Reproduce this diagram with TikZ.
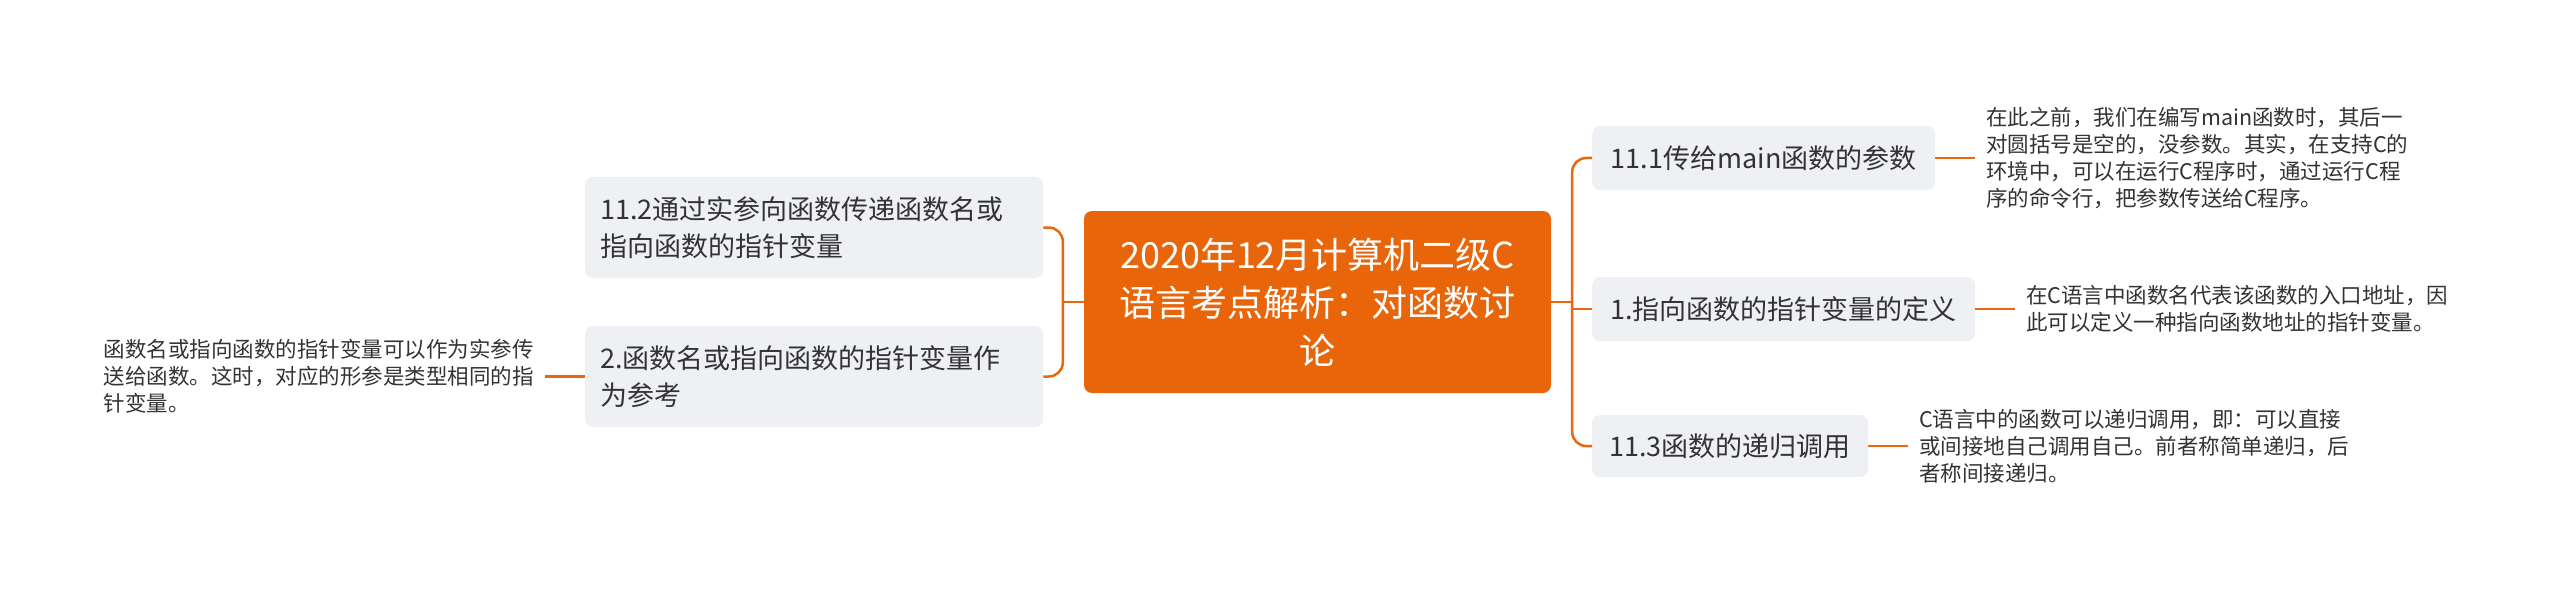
\documentclass[tikz,border=0pt]{standalone}
\usepackage{fontspec}
\setmainfont{Noto Sans CJK SC}
\usetikzlibrary{calc}
\definecolor{orng}{HTML}{E8650A}
\definecolor{conn}{HTML}{E8670F}
\definecolor{boxgray}{HTML}{EEF0F3}
\definecolor{txt}{HTML}{333333}
\begin{document}
\begin{tikzpicture}[x=1pt,y=-1pt,
  rootbox/.style={fill=orng, rounded corners=8pt, text=white, font=\fontsize{36}{48}\selectfont, align=center, minimum width=467pt, minimum height=182pt, inner sep=0pt},
  topicbox/.style={fill=boxgray, rounded corners=8pt, text=txt, inner xsep=15pt, inner ysep=0pt, anchor=west, font=\fontsize{27}{37}\selectfont},
  leaf/.style={text=txt, align=left, font=\fontsize{21.5}{27}\selectfont, inner xsep=11pt, inner ysep=0pt},
  link/.style={draw=conn, line width=2.5pt}
]
\useasboundingbox (0,0) rectangle (2560,591);
\fill[white] (0,0) rectangle (2560,591);

\node[rootbox] (root) at (1317.5,302) {2020年12月计算机二级C\\语言考点解析：对函数讨\\论};

% left side
\node[topicbox, text width=428pt, align=left, minimum height=101pt] (l1) at (585,227.5) {11.2通过实参向函数传递函数名或\\指向函数的指针变量};
\node[topicbox, text width=428pt, align=left, minimum height=101pt] (l2) at (585,376.5) {2.函数名或指向函数的指针变量作\\为参考};
\node[leaf, anchor=east] (ll2) at (545,376.5) {函数名或指向函数的指针变量可以作为实参传\\送给函数。这时，对应的形参是类型相同的指\\针变量。};

% right side
\node[topicbox, minimum width=343pt, minimum height=64pt] (r1) at (1592,158) {11.1传给main函数的参数};
\node[topicbox, minimum width=383pt, minimum height=64pt] (r2) at (1592,309) {1.指向函数的指针变量的定义};
\node[topicbox, minimum width=276pt, minimum height=62pt] (r3) at (1592,446) {11.3函数的递归调用};

\node[leaf, anchor=west] (rl1) at (1975,158) {在此之前，我们在编写main函数时，其后一\\对圆括号是空的，没参数。其实，在支持C的\\环境中，可以在运行C程序时，通过运行C程\\序的命令行，把参数传送给C程序。};
\node[leaf, anchor=west] (rl2) at (2015,309) {在C语言中函数名代表该函数的入口地址，因\\此可以定义一种指向函数地址的指针变量。};
\node[leaf, anchor=west] (rl3) at (1908,446) {C语言中的函数可以递归调用，即：可以直接\\或间接地自己调用自己。前者称简单递归，后\\者称间接递归。};

% connectors
\coordinate (jl) at ($(root.west)+(-21,0)$);
\coordinate (jr) at ($(root.east)+(21,0)$);
\draw[link, rounded corners=14pt] (l1.east) -| (jl) |- (l2.east);
\draw[link] (root.west) -- (jl);
\draw[link, rounded corners=14pt] (r1.west) -| (jr) |- (r3.west);
\draw[link] (root.east) -- (jr);
\draw[link] (jr |- r2.west) -- (r2.west);
\draw[link] (ll2.east) -- (l2.west);
\draw[link] (r1.east) -- (rl1.west);
\draw[link] (r2.east) -- (rl2.west);
\draw[link] (r3.east) -- (rl3.west);
\end{tikzpicture}
\end{document}
